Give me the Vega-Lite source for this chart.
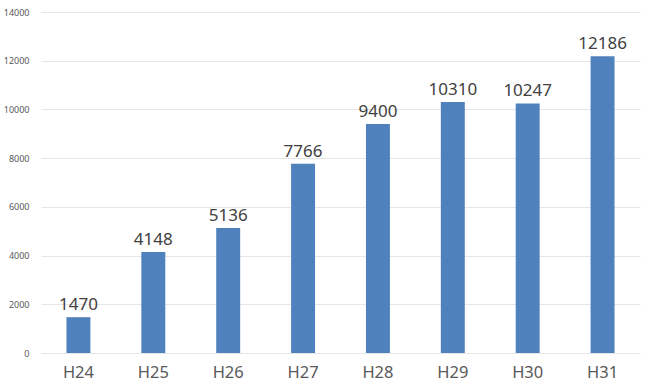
{
  "$schema": "https://vega.github.io/schema/vega-lite/v6.json",
  "width": 599,
  "height": 341,
  "autosize": {"type": "none"},
  "padding": {"left": 41, "top": 12, "right": 10, "bottom": 38},
  "background": "white",
  "config": {"view": {"stroke": null}, "font": "Noto Sans"},
  "data": {"values": [
    {"year": "H24", "value": 1470},
    {"year": "H25", "value": 4148},
    {"year": "H26", "value": 5136},
    {"year": "H27", "value": 7766},
    {"year": "H28", "value": 9400},
    {"year": "H29", "value": 10310},
    {"year": "H30", "value": 10247},
    {"year": "H31", "value": 12186}
  ]},
  "encoding": {
    "x": {"field": "year", "type": "nominal", "sort": null,
      "scale": {"paddingInner": 0.68, "paddingOuter": 0.34},
      "axis": {"title": null, "labelAngle": 0, "domain": false, "ticks": false, "labelFontSize": 16.5, "labelColor": "#595959", "labelPadding": 11}},
    "y": {"field": "value", "type": "quantitative",
      "scale": {"domain": [0, 14000]},
      "axis": {"title": null, "format": "d", "values": [0, 2000, 4000, 6000, 8000, 10000, 12000, 14000], "domain": false, "ticks": false, "labelFontSize": 9, "labelColor": "#595959", "labelPadding": 12, "gridColor": "#e6e6e6"}}
  },
  "layer": [
    {"mark": {"type": "bar", "color": "#4f81bd"}},
    {"mark": {"type": "text", "baseline": "bottom", "dy": -3, "fontSize": 17, "color": "#404040"},
     "encoding": {"text": {"field": "value", "type": "quantitative", "format": "d"}}}
  ]
}
